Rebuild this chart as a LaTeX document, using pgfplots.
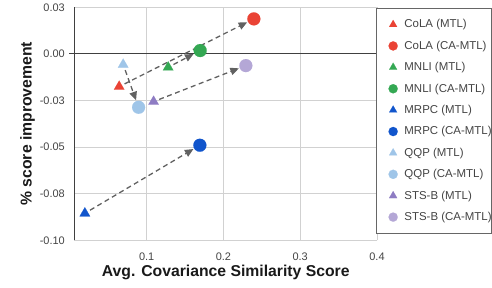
\documentclass[border=0pt]{standalone}
\usepackage{fontspec}
\setmainfont{Liberation Sans}
\usepackage{pgfplots}
\pgfplotsset{compat=1.18}
\usetikzlibrary{arrows.meta}
\definecolor{cred}{HTML}{EA4335}
\definecolor{cgreen}{HTML}{34A853}
\definecolor{cblue}{HTML}{1155CC}
\definecolor{clblue}{HTML}{9FC5E8}
\definecolor{cpurp}{HTML}{8E7CC3}
\definecolor{clpurp}{HTML}{B4A7D6}
\definecolor{arr}{HTML}{616161}
\definecolor{txt}{HTML}{444444}
\begin{document}
\begin{tikzpicture}
\begin{axis}[
  at={(0,0)}, anchor=south west,
  scale only axis, width=302.5bp, height=233bp,
  xmin=0.006, xmax=0.4, ymin=-0.1, ymax=0.025,
  xtick={0.1,0.2,0.3,0.4}, xticklabels={0.1,0.2,0.3,0.4},
  ytick={-0.1,-0.075,-0.05,-0.025,0,0.025},
  yticklabels={-0.10,-0.08,-0.05,-0.03,0.00,0.03},
  grid=major, grid style={draw=black!18, line width=0.8bp},
  major tick length=0pt,
  axis line style={draw=none},
  tick label style={font=\fontsize{11}{12}\selectfont, text=txt},
  xticklabel style={inner sep=0pt, anchor=north, yshift=-12bp},
  yticklabel style={inner sep=0pt, anchor=east, xshift=-9.5bp},
  xlabel={Avg. Covariance Similarity Score},
  ylabel={\% score improvement},
  label style={font=\bfseries\fontsize{15.8}{18}\selectfont, text=black!90},
  xlabel style={at={(axis description cs:0.5,-0.1373)}, anchor=center},
  ylabel style={at={(axis description cs:-0.155,0.5)}, anchor=center},
  clip=false,
  legend style={at={(axis description cs:0.997,0.9957)}, anchor=north west,
    draw=black!60, fill=white, line width=0.7bp,
    font=\fontsize{11.5}{13}\selectfont, text=txt,
    inner xsep=0pt, inner ysep=11bp, row sep=11.6bp, column sep=0pt,
    nodes={inner sep=0pt}},
  legend cell align=left,
  legend image code/.code={\path[draw=none,fill=none] (-16.7bp,0) -- (11.3bp,0);
    \path[#1, mark size=4.6bp] plot coordinates {(0bp,0bp)};},
]
% axis lines
\draw[black!75, line width=0.9bp] (rel axis cs:0,0) -- (rel axis cs:0,1);
\draw[black!75, line width=0.9bp] ([xshift=-5bp]axis cs:0.006,0) -- (axis cs:0.4,0);
% arrows MTL -> CA-MTL
\pgfplotsset{arrowstyle/.style={forget plot, arr, line width=1.3bp,
  dash pattern=on 5bp off 3.5bp, -{Triangle[length=8.5bp,width=7.5bp]},
  shorten >=7.5bp, shorten <=6bp}}
\addplot[arrowstyle] coordinates {(0.0642,-0.01754) (0.2396,0.01878)};
\addplot[arrowstyle] coordinates {(0.128,-0.0072) (0.1697,0.0018)};
\addplot[arrowstyle] coordinates {(0.0195,-0.0855) (0.1693,-0.049)};
\addplot[arrowstyle] coordinates {(0.0694,-0.0057) (0.0895,-0.02865)};
\addplot[arrowstyle] coordinates {(0.109,-0.0256) (0.2292,-0.00628)};
% points
\addplot[only marks, mark=triangle*, mark size=6bp, color=cred, fill=cred, mark options={line width=0.1bp}] coordinates {(0.0642,-0.01754)};
\addlegendentry{CoLA (MTL)}
\addplot[only marks, mark=*, mark size=6.5bp, color=cred, fill=cred, mark options={line width=0.1bp}] coordinates {(0.2396,0.01878)};
\addlegendentry{CoLA (CA-MTL)}
\addplot[only marks, mark=triangle*, mark size=6bp, color=cgreen, fill=cgreen, mark options={line width=0.1bp}] coordinates {(0.128,-0.0072)};
\addlegendentry{MNLI (MTL)}
\addplot[only marks, mark=*, mark size=6.5bp, color=cgreen, fill=cgreen, mark options={line width=0.1bp}] coordinates {(0.1697,0.0018)};
\addlegendentry{MNLI (CA-MTL)}
\addplot[only marks, mark=triangle*, mark size=6bp, color=cblue, fill=cblue, mark options={line width=0.1bp}] coordinates {(0.0195,-0.0855)};
\addlegendentry{MRPC (MTL)}
\addplot[only marks, mark=*, mark size=6.5bp, color=cblue, fill=cblue, mark options={line width=0.1bp}] coordinates {(0.1693,-0.049)};
\addlegendentry{MRPC (CA-MTL)}
\addplot[only marks, mark=triangle*, mark size=6bp, color=clblue, fill=clblue, mark options={line width=0.1bp}] coordinates {(0.0694,-0.0057)};
\addlegendentry{QQP (MTL)}
\addplot[only marks, mark=*, mark size=6.5bp, color=clblue, fill=clblue, mark options={line width=0.1bp}] coordinates {(0.0895,-0.02865)};
\addlegendentry{QQP (CA-MTL)}
\addplot[only marks, mark=triangle*, mark size=6bp, color=cpurp, fill=cpurp, mark options={line width=0.1bp}] coordinates {(0.109,-0.0256)};
\addlegendentry{STS-B (MTL)}
\addplot[only marks, mark=*, mark size=6.5bp, color=clpurp, fill=clpurp, mark options={line width=0.1bp}] coordinates {(0.2292,-0.00628)};
\addlegendentry{STS-B (CA-MTL)}
\end{axis}
\pgfresetboundingbox
\path[use as bounding box] (-74.5bp,-47.7bp) rectangle (417.5bp,240.3bp);
\end{tikzpicture}
\end{document}
